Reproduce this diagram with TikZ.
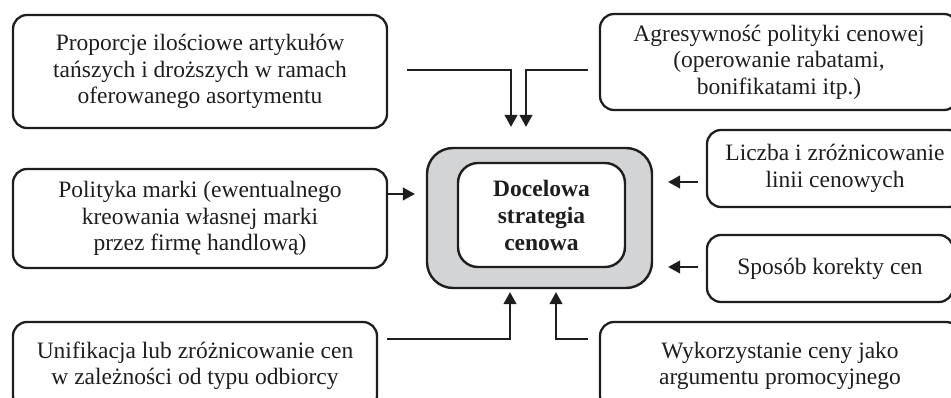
\documentclass[tikz,border=0pt]{standalone}
\usepackage{fontspec}
\setmainfont{Liberation Serif}
\usetikzlibrary{arrows.meta}
\definecolor{boxgray}{RGB}{211,212,214}
\definecolor{ink}{RGB}{30,30,30}
\tikzset{
  box/.style={draw=ink, line width=2.3pt, rounded corners=14pt, inner sep=0pt,
    align=center, font=\fontsize{23.5}{26.5}\selectfont, text=ink},
  conn/.style={draw=ink, line width=1.3pt},
  arr/.style={conn, -{Triangle[length=12pt,width=13pt]}},
}
\begin{document}
\begin{tikzpicture}[x=1pt,y=-1pt]
\useasboundingbox (0,0) rectangle (951,398);
\clip (0,0) rectangle (951,398);
% central box
\node[box, fill=boxgray, rounded corners=26pt, line width=2.4pt, minimum width=225pt, minimum height=140pt] (outer) at (539.5,218) {};
\node[box, fill=white, rounded corners=20pt, line width=2.4pt, minimum width=167pt, minimum height=104pt, font=\fontsize{23.5}{27}\selectfont\bfseries] (c) at (541.5,215) {Docelowa\\strategia\\cenowa};
% factor boxes
\node[box, minimum width=374pt, minimum height=113pt] (p1) at (200,71.5) {Proporcje ilościowe artykułów\\tańszych i droższych w ramach\\oferowanego asortymentu};
\node[box, minimum width=358pt, minimum height=96pt] (p2) at (779,62) {Agresywność polityki cenowej\\(operowanie rabatami,\\bonifikatami itp.)};
\node[box, minimum width=374pt, minimum height=99pt] (p7) at (200,218.5) {Polityka marki (ewentualnego\\kreowania własnej marki\\przez firmę handlową)};
\node[box, minimum width=256pt, minimum height=77pt] (p3) at (835,168.5) {Liczba i zróżnicowanie\\linii cenowych};
\node[box, minimum width=246pt, minimum height=67pt] (p4) at (830,268.5) {Sposób korekty cen};
\node[box, minimum width=364pt, minimum height=88pt] (p6) at (195,366) {Unifikacja lub zróżnicowanie cen\\w zależności od typu odbiorcy};
\node[box, minimum width=360pt, minimum height=88pt] (p5) at (780,366) {Wykorzystanie ceny jako\\argumentu promocyjnego};
% connector free ends
\coordinate (s1) at (407,70);
\coordinate (s2) at (588,70);
\coordinate (s6) at (387,339);
\coordinate (s5) at (588,339);
\coordinate (s3) at (698,182);
\coordinate (s4) at (698,267);
% connectors
\draw[arr, shorten >=20pt] (s1) -| ([xshift=-28.5pt]outer.north);
\draw[arr, shorten >=20pt] (s2) -| ([xshift=-13.5pt]outer.north);
\draw[arr, shorten >=11pt] (p7.east |- 0,194) -- (outer.west |- 0,194);
\draw[arr, shorten >=15pt] (s3) -- (outer.east |- s3);
\draw[arr, shorten >=15pt] (s4) -- (outer.east |- s4);
\draw[arr, shorten >=3pt] (s6) -| ([xshift=-29.5pt]outer.south);
\draw[arr, shorten >=3pt] (s5) -| ([xshift=16.5pt]outer.south);
\end{tikzpicture}
\end{document}
